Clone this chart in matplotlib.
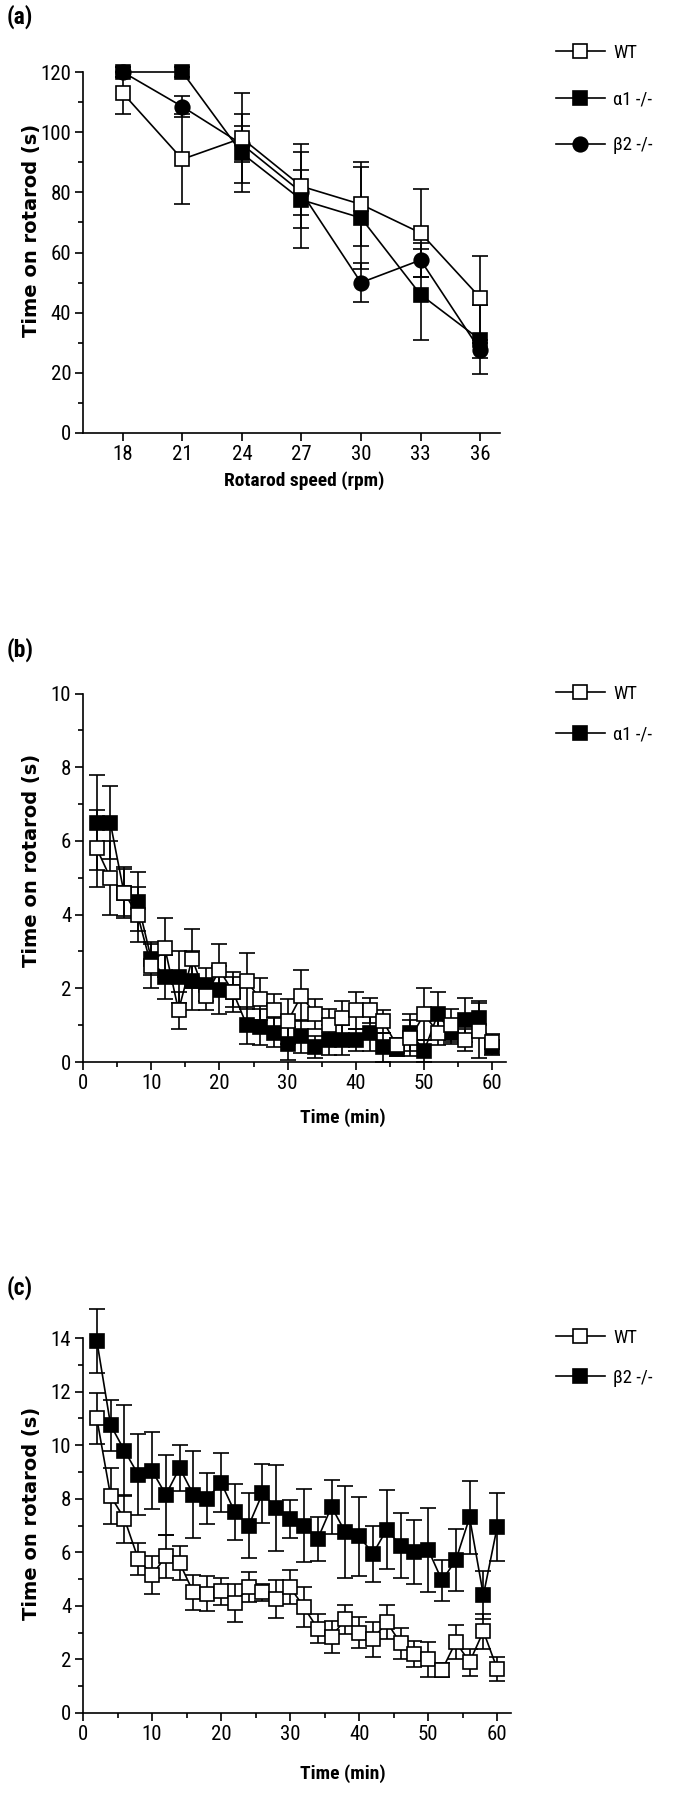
import numpy as np
import matplotlib.pyplot as plt
from matplotlib import font_manager
from matplotlib.ticker import MultipleLocator

# ============== DATA ==============
# (a) time on rotarod vs rotarod speed
speed_rpm = [18, 21, 24, 27, 30, 33, 36]
a_wt = [113, 91, 98, 82, 76, 66.5, 45]
a_wt_err = [7, 15, 15, 14, 14, 14.5, 14]
a_alpha1 = [120, 120, 93, 77.5, 71.5, 46, 31]
a_alpha1_err = [1.5, 1.5, 13, 16, 17, 15, 11.5]
a_beta2 = [120, 108.5, 96, 80, 50, 57.5, 27.5]
a_beta2_err = [1.5, 3.5, 6, 7.5, 6.5, 5.5, 2.5]

# (b) and (c) share the time axis
time_min = list(range(2, 61, 2))

b_wt = [5.8, 5.0, 4.6, 4.0, 2.6, 3.1, 1.4, 2.8, 1.8, 2.5, 1.9, 2.2, 1.7, 1.4, 1.1,
        1.8, 1.3, 1.0, 1.2, 1.4, 1.4, 1.1, 0.45, 0.65, 1.3, 0.8, 1.0, 0.6, 0.85, 0.55]
b_wt_err = [1.05, 1.0, 0.65, 0.75, 0.6, 0.8, 0.5, 0.8, 0.4, 0.7, 0.55, 0.75, 0.57, 0.45, 0.6,
            0.7, 0.4, 0.45, 0.45, 0.5, 0.35, 0.3, 0.2, 0.5, 0.7, 0.35, 0.45, 0.3, 0.75, 0.2]
b_alpha1 = [6.5, 6.5, 4.6, 4.35, 2.8, 2.3, 2.3, 2.2, 2.1, 1.95, 1.9, 1.0, 0.95, 0.8, 0.5,
            0.7, 0.4, 0.6, 0.6, 0.6, 0.8, 0.4, 0.35, 0.8, 0.3, 1.3, 0.8, 1.15, 1.2, 0.4]
b_alpha1_err = [1.3, 1.0, 0.7, 0.8, 0.45, 0.6, 0.7, 0.8, 0.45, 0.65, 0.4, 0.5, 0.5, 0.4, 0.45,
                0.45, 0.3, 0.4, 0.4, 0.3, 0.5, 0.4, 0.2, 0.5, 0.3, 0.6, 0.3, 0.6, 0.45, 0.2]

c_wt = [11.0, 8.1, 7.25, 5.75, 5.15, 5.85, 5.6, 4.5, 4.45, 4.55, 4.1, 4.7, 4.5, 4.25, 4.7,
        3.95, 3.15, 2.85, 3.5, 3.0, 2.75, 3.4, 2.6, 2.2, 2.0, 1.6, 2.65, 1.9, 3.05, 1.65]
c_wt_err = [0.95, 1.05, 0.9, 0.6, 0.7, 0.8, 0.65, 0.65, 0.65, 0.5, 0.7, 0.55, 0.3, 0.72, 0.63,
            0.74, 0.55, 0.6, 0.55, 0.58, 0.65, 0.62, 0.58, 0.5, 0.66, 0.25, 0.63, 0.5, 0.66, 0.44]
c_beta2 = [13.9, 10.75, 9.8, 8.9, 9.05, 8.15, 9.15, 8.15, 8.0, 8.6, 7.5, 7.0, 8.2, 7.65, 7.25,
           7.0, 6.5, 7.7, 6.75, 6.6, 5.95, 6.85, 6.25, 6.0, 6.1, 4.95, 5.7, 7.3, 4.4, 6.95]
c_beta2_err = [1.2, 0.95, 1.7, 1.5, 1.45, 1.5, 0.87, 1.62, 0.95, 1.1, 1.05, 1.2, 1.1, 1.6, 0.7,
               1.38, 0.82, 1.0, 1.72, 1.48, 1.05, 1.48, 1.2, 1.2, 1.57, 0.75, 1.16, 1.36, 0.9, 1.26]


# ============== FONTS ==============
def pick_narrow_font():
    """Look for a narrow / condensed sans; fall back to plain Liberation Sans."""
    fonts = font_manager.fontManager.ttflist
    names = {f.name for f in fonts}
    for name in ('Liberation Sans Narrow', 'Arial Narrow', 'Roboto Condensed',
                 'Open Sans Condensed', 'Noto Sans Condensed', 'DejaVu Sans Condensed'):
        if name in names:
            return name, 'normal', True
    for fam in ('Noto Sans', 'Roboto', 'Open Sans', 'DejaVu Sans', 'Liberation Sans'):
        for f in fonts:
            if f.name == fam and str(f.stretch) in ('condensed', 'semi-condensed', 'extra-condensed'):
                return fam, 'condensed', True
    return 'Liberation Sans', 'normal', False


NARROW_FAMILY, NARROW_STRETCH, HAVE_NARROW = pick_narrow_font()
# plain Liberation is wider, so shrink horizontal texts a bit when no narrow face exists
K = 1.0 if HAVE_NARROW else 0.84

plt.rcParams['font.family'] = [NARROW_FAMILY, 'DejaVu Sans']
plt.rcParams['font.stretch'] = NARROW_STRETCH
plt.rcParams['axes.linewidth'] = 1.2

LW = 1.2
MS = 10.5
CAP = 5.5
W, H = 680, 1800


def series(ax, x, y, err, marker, face, label):
    """Error bars behind, line + marker on top."""
    ax.errorbar(x, y, yerr=err, fmt='none', ecolor='black', elinewidth=LW,
                capsize=CAP, capthick=LW, zorder=2, clip_on=False)
    line, = ax.plot(x, y, '-', color='black', lw=LW, marker=marker, ms=MS,
                    mfc=face, mec='black', mew=1.2, zorder=3, clip_on=False, label=label)
    return line


def style_axes(ax):
    for side in ('top', 'right'):
        ax.spines[side].set_visible(False)
    ax.tick_params(which='major', direction='out', length=5.5, width=1.2,
                   labelsize=15 * K, pad=3)
    ax.tick_params(which='minor', direction='out', length=3.5, width=1.2)


def add_legend(ax, handles, top_px, spacing):
    ax.legend(handles=handles, loc='upper left', frameon=False,
              bbox_to_anchor=(556 / W, 1 - top_px / H), bbox_transform=fig.transFigure,
              borderaxespad=0, borderpad=0, handlelength=2.6, handletextpad=0.45,
              labelspacing=spacing, fontsize=13.5 * K)


def px_axes(left, right, top, bottom):
    return fig.add_axes([left / W, 1 - bottom / H, (right - left) / W, (bottom - top) / H])


fig = plt.figure(figsize=(W / 100, H / 100), dpi=100)

ylabel_kw = dict(fontsize=14, fontweight='bold', family=['DejaVu Sans'], fontstretch='normal')
xlabel_kw = dict(fontsize=14 * K, fontweight='bold')

# ---- (a) ----
ax_a = px_axes(83, 500, 72, 433)
h_a1 = series(ax_a, speed_rpm, a_alpha1, a_alpha1_err, 's', 'black', '\u03b11 -/-')
h_b2 = series(ax_a, speed_rpm, a_beta2, a_beta2_err, 'o', 'black', '\u03b22 -/-')
h_wt = series(ax_a, speed_rpm, a_wt, a_wt_err, 's', 'white', 'WT')
ax_a.set_xlim(16, 37)
ax_a.set_ylim(0, 120)
ax_a.set_xticks(speed_rpm)
ax_a.yaxis.set_major_locator(MultipleLocator(20))
ax_a.yaxis.set_minor_locator(MultipleLocator(10))
style_axes(ax_a)
ax_a.set_ylabel('Time on rotarod (s)', **ylabel_kw)
ax_a.yaxis.set_label_coords(-0.10, 0.562)
ax_a.set_xlabel('Rotarod speed (rpm)', **xlabel_kw)
ax_a.xaxis.set_label_coords(0.53, -0.105)
add_legend(ax_a, [h_wt, h_a1, h_b2], 44, 1.5)

# ---- (b) ----
ax_b = px_axes(83, 506, 693.6, 1062)
h_a1 = series(ax_b, time_min, b_alpha1, b_alpha1_err, 's', 'black', '\u03b11 -/-')
h_wt = series(ax_b, time_min, b_wt, b_wt_err, 's', 'white', 'WT')
ax_b.set_xlim(0, 62)
ax_b.set_ylim(0, 10)
ax_b.xaxis.set_major_locator(MultipleLocator(10))
ax_b.xaxis.set_minor_locator(MultipleLocator(5))
ax_b.yaxis.set_major_locator(MultipleLocator(2))
ax_b.yaxis.set_minor_locator(MultipleLocator(1))
style_axes(ax_b)
ax_b.set_ylabel('Time on rotarod (s)', **ylabel_kw)
ax_b.yaxis.set_label_coords(-0.099, 0.546)
ax_b.set_xlabel('Time (min)', **xlabel_kw)
ax_b.xaxis.set_label_coords(0.615, -0.125)
add_legend(ax_b, [h_wt, h_a1], 685, 1.22)

# ---- (c) ----
ax_c = px_axes(83, 511, 1338, 1713)
h_b2 = series(ax_c, time_min, c_beta2, c_beta2_err, 's', 'black', '\u03b22 -/-')
h_wt = series(ax_c, time_min, c_wt, c_wt_err, 's', 'white', 'WT')
ax_c.set_xlim(0, 62)
ax_c.set_ylim(0, 14)
ax_c.xaxis.set_major_locator(MultipleLocator(10))
ax_c.xaxis.set_minor_locator(MultipleLocator(5))
ax_c.yaxis.set_major_locator(MultipleLocator(2))
ax_c.yaxis.set_minor_locator(MultipleLocator(1))
style_axes(ax_c)
ax_c.set_ylabel('Time on rotarod (s)', **ylabel_kw)
ax_c.yaxis.set_label_coords(-0.098, 0.533)
ax_c.set_xlabel('Time (min)', **xlabel_kw)
ax_c.xaxis.set_label_coords(0.607, -0.136)
add_legend(ax_c, [h_wt, h_b2], 1329, 1.16)

# panel letters
for letter, y_px in (('(a)', 17), ('(b)', 650), ('(c)', 1288)):
    fig.text(20 / W, 1 - y_px / H, letter, ha='center', va='center',
             fontsize=17 * K, fontweight='bold')

fig.savefig('out.png', dpi=100)
